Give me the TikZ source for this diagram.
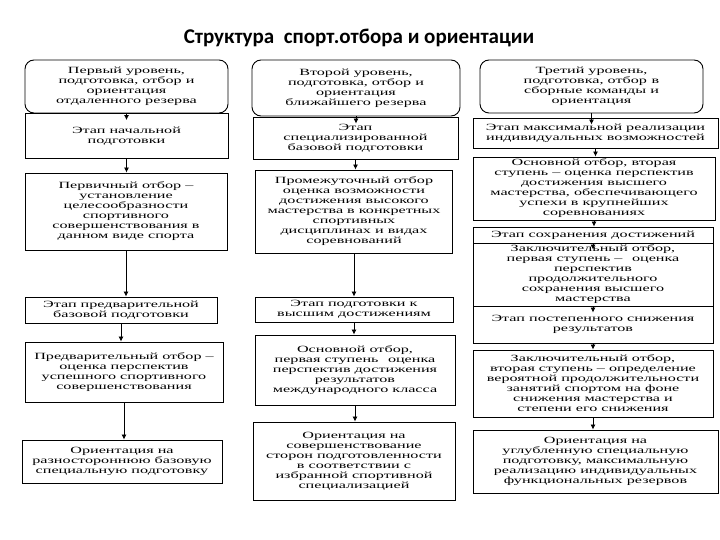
\documentclass[tikz,border=0pt]{standalone}
\usepackage{fontspec}
\usepackage{tikz}
\usetikzlibrary{arrows.meta}
\setmainfont{Liberation Serif}
\newfontfamily\boxfont[FakeStretch=1.7]{Liberation Serif}
\newfontfamily\titlefont{Carlito}

\begin{document}
\begin{tikzpicture}[x=1pt,y=-1pt,
		box/.style={draw, line width=0.9pt, align=center, inner sep=1pt, font={\boxfont\fontsize{9.5}{10}\selectfont}},
		levbox/.style={box, rounded corners=9pt},
		arr/.style={-{Latex[length=5pt,width=5pt]}, line width=0.8pt}]
				% 画布
				\useasboundingbox (0,0) rectangle (720,540);
				\fill[white] (0,0) rectangle (720,540);
				
				% 标题
				\node[font={\titlefont\bfseries\fontsize{21}{24}\selectfont}] (title) at (359,38) {Структура\ \ спорт.отбора и ориентации};
				
				% 第一列
				\node[levbox, minimum width=203pt, minimum height=53pt] (lev1) at (126.5,86.5) {Первый уровень,\\ подготовка, отбор и\\ ориентация\\ отдаленного резерва};
				\node[box, minimum width=203pt, minimum height=45pt] (st1) at (126.5,136) {Этап начальной\\ подготовки};
				\node[box, minimum width=202pt, minimum height=77pt] (pv1) at (126,211.5) {Первичный отбор –\\ установление\\ целесообразности\\ спортивного\\ совершенствования в\\ данном виде спорта};
				\node[box, minimum width=192pt, minimum height=26pt] (pb1) at (121,310) {Этап предварительной\\ базовой подготовки};
				\node[box, minimum width=198pt, minimum height=60pt] (po1) at (124,372) {Предварительный отбор –\\ оценка перспектив\\ успешного спортивного\\ совершенствования};
				\node[box, minimum width=200pt, minimum height=43pt] (or1) at (122,461.5) {Ориентация на\\ разностороннюю базовую\\ специальную подготовку};
				
				% 第二列
				\node[levbox, minimum width=208pt, minimum height=56pt] (lev2) at (356,88) {Второй уровень,\\ подготовка, отбор и\\ ориентация\\ ближайшего резерва};
				\node[box, minimum width=205pt, minimum height=42pt] (st2) at (355.5,138) {Этап\\ специализированной\\ базовой подготовки};
				\node[box, minimum width=197pt, minimum height=83pt] (pr2) at (354,211.5) {Промежуточный отбор\\ оценка возможности\\ достижения высокого\\ мастерства в конкретных\\ спортивных\\ дисциплинах и видах\\ соревнований};
				\node[box, minimum width=198pt, minimum height=25pt] (pd2) at (354,309.5) {Этап подготовки к\\ высшим достижениям};
				\node[box, minimum width=200pt, minimum height=70pt] (oo2) at (355,370) {Основной отбор,\\ первая ступень\quad оценка\\ перспектив достижения\\ результатов\\ международного класса};
				\node[box, minimum width=202pt, minimum height=78pt] (os2) at (354,461) {Ориентация на\\ совершенствование\\ сторон подготовленности\\ в соответствии с\\ избранной спортивной\\ специализацией};
				
				% 第三列
				\node[levbox, minimum width=223pt, minimum height=53pt] (lev3) at (591.5,86.5) {Третий уровень,\\ подготовка, отбор\enspace в\\ сборные команды и\\ ориентация};
				\node[box, minimum width=245pt, minimum height=30pt] (st3) at (595.5,133) {Этап максимальной реализации\\ индивидуальных возможностей};
				\node[box, minimum width=242pt, minimum height=63pt] (ob3) at (594,188.5) {Основной отбор, вторая\\ ступень – оценка перспектив\\ достижения высшего\\ мастерства, обеспечивающего\\ успехи в крупнейших\\ соревнованиях};
				\node[box, minimum width=240pt, minimum height=16pt] (ss3) at (593,235) {Этап сохранения достижений};
				\node[box, minimum width=240pt, minimum height=63pt] (zp3) at (593,274.5) {Заключительный отбор,\\ первая ступень –\quad оценка\\ перспектив\\ продолжительного\\ сохранения высшего\\ мастерства};
				\node[box, minimum width=240pt, minimum height=37pt] (sn3) at (593,324.5) {Этап постепенного снижения\\ результатов};
				\node[box, minimum width=240pt, minimum height=67pt] (zv3) at (593,383.5) {Заключительный отбор,\\ вторая ступень – определение\\ вероятной продолжительности\\ занятий спортом на фоне\\ снижения мастерства и\\ степени его снижения};
				\node[box, minimum width=245pt, minimum height=63pt] (ou3) at (595.5,461.5) {Ориентация на\\ углубленную специальную\\ подготовку, максимальную\\ реализацию индивидуальных\\ функциональных резервов};
				
				% 框内短箭头
				\foreach \a/\b in {lev1/st1, lev2/st2, lev3/st3, ss3/zp3, zp3/sn3}
				\draw[arr] (\a.south) -- ([yshift=-7pt]\a.south |- \b.north);
				
				% 框间箭头
				\foreach \a/\b in {st1/pv1, pv1/pb1, pb1/po1, po1/or1, st2/pr2, pr2/pd2, pd2/oo2, oo2/os2, st3/ob3, ob3/ss3, sn3/zv3, zv3/ou3}
				\draw[arr] (\a.south) -- (\a.south |- \b.north);
				
			\end{tikzpicture}
\end{document}
